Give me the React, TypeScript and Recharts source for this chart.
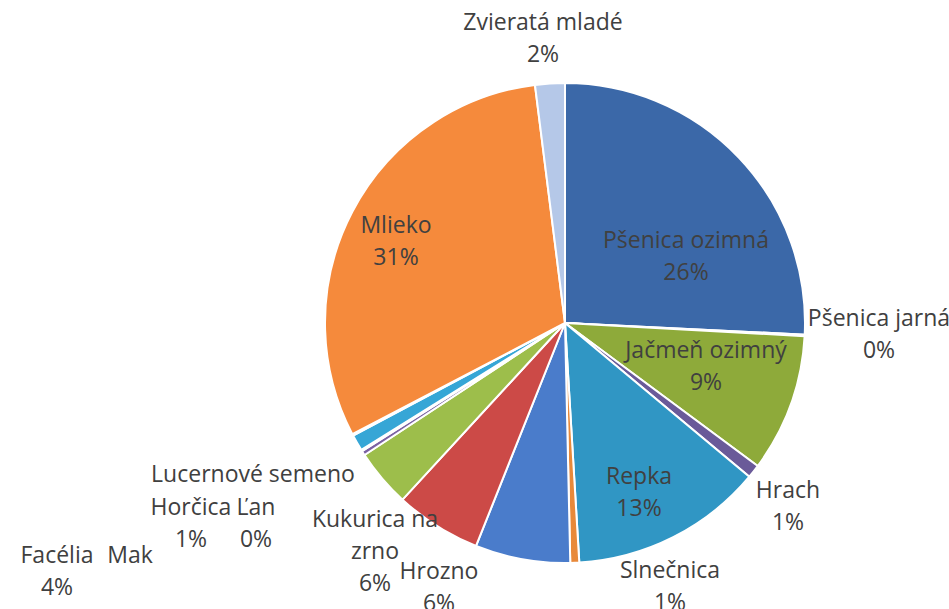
import React from "react";
import { PieChart, Pie, Cell } from "recharts";

const categories = [
  "Pšenica ozimná",
  "Pšenica jarná",
  "Jačmeň ozimný",
  "Hrach",
  "Repka",
  "Slnečnica",
  "Hrozno",
  "Kukurica na zrno",
  "Facélia",
  "Mak",
  "Lucernové semeno",
  "Horčica",
  "Ľan",
  "Mlieko",
  "Zvieratá mladé",
];

const values = [25.8, 0.1, 9.3, 0.9, 13.0, 0.6, 6.4, 5.8, 3.9, 0.3, 0.1, 1.1, 0.1, 30.7, 2.0];

const colors = [
  "#3B68A8",
  "#C0504D",
  "#8EAA3A",
  "#6A5A99",
  "#3096C4",
  "#E8893A",
  "#4A7CCB",
  "#CC4A47",
  "#9DBE4B",
  "#7B62A3",
  "#4BACC6",
  "#36A6D6",
  "#F79646",
  "#F58A3C",
  "#B5C8E8",
];

// label text lines (name split into lines)
const labelLines: Record<string, string[]> = {
  "Kukurica na zrno": ["Kukurica na", "zrno"],
};
const hidePercent = ["Mak", "Lucernové semeno"];

// label placement: offset of first line's center from pie center
const labelOffsets: Record<string, [number, number]> = {
  "Zvieratá mladé": [-22, -296],
  "Pšenica ozimná": [121, -78],
  "Pšenica jarná": [314, 0],
  "Jačmeň ozimný": [141, 32],
  "Hrach": [223, 172],
  "Repka": [74, 158],
  "Slnečnica": [105, 252],
  "Hrozno": [-126, 253],
  "Kukurica na zrno": [-190, 201],
  "Facélia": [-508, 237],
  "Mak": [-435, 237],
  "Lucernové semeno": [-312, 156],
  "Horčica": [-374, 189],
  "Ľan": [-309, 189],
  "Mlieko": [-169, -93],
};

const data = categories.map((name, i) => ({ name, value: values[i] }));

const FONT = 23;
const LINE_H = 32;

const renderLabel = (props: any) => {
  const { cx, cy, name, percent } = props;
  const off = labelOffsets[name] || [0, 0];
  const lines = [...(labelLines[name] || [name])];
  if (!hidePercent.includes(name)) lines.push(`${Math.round(percent * 100)}%`);
  const x = cx + off[0];
  const y = cy + off[1] + 3;
  return (
    <text
      key={name}
      x={x}
      y={y}
      textAnchor="middle"
      fill="#404040"
      fontSize={FONT}
      fontFamily="'Open Sans', sans-serif"
    >
      {lines.map((l, i) => (
        <tspan key={i} x={x} dy={i === 0 ? 0 : LINE_H}>
          {l}
        </tspan>
      ))}
    </text>
  );
};

export default function App() {
  return (
    <div style={{ position: "absolute", left: 0, top: 0, width: 949, height: 609 }}>
      <PieChart width={949} height={609}>
        <Pie
          data={data}
          dataKey="value"
          nameKey="name"
          cx={560}
          cy={318}
          outerRadius={240}
          startAngle={90}
          endAngle={-270}
          stroke="#ffffff"
          strokeWidth={2}
          label={renderLabel}
          labelLine={false}
          isAnimationActive={false}
        >
          {data.map((d, i) => (
            <Cell key={d.name} fill={colors[i]} />
          ))}
        </Pie>
      </PieChart>
    </div>
  );
}
